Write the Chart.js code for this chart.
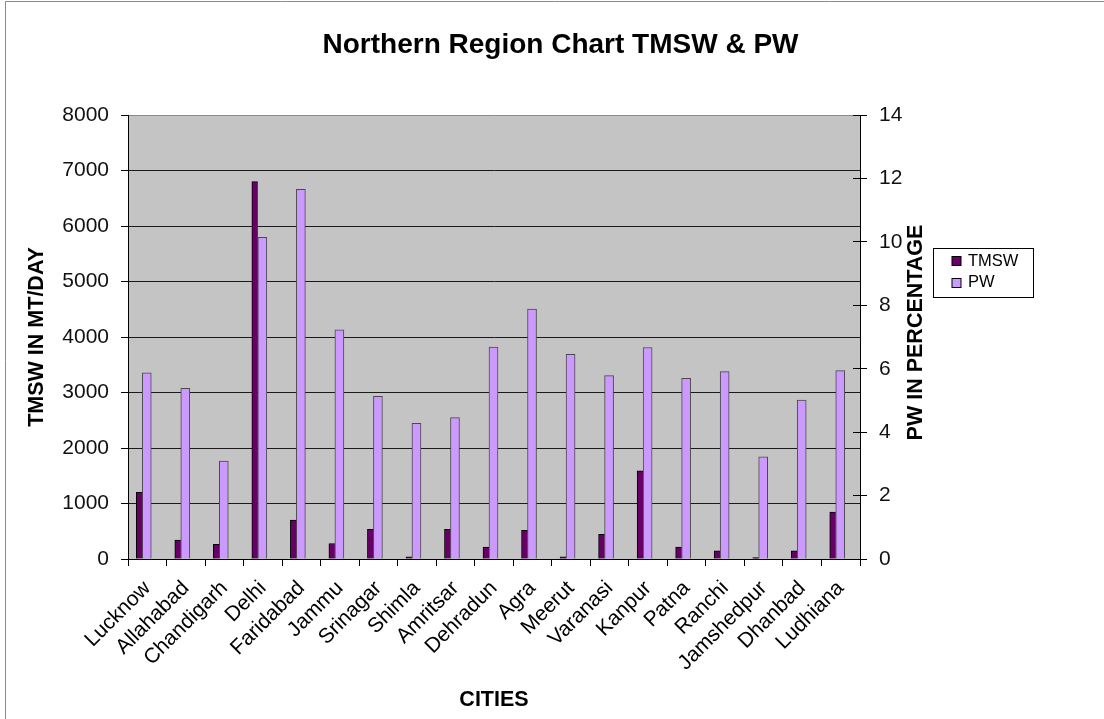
<!DOCTYPE html>
<html>
<head>
<meta charset="utf-8">
<title>Northern Region Chart TMSW &amp; PW</title>
<script src="https://cdn.jsdelivr.net/npm/chart.js@4.4.1/dist/chart.umd.min.js"></script>
<style>
  html, body { margin: 0; padding: 0; background: #ffffff; }
  #wrap { width: 1104px; height: 719px; }
</style>
</head>
<body>
<div id="wrap"><canvas id="chart" width="1104" height="719"></canvas></div>
<script>
// ---- data ----
const cities = ['Lucknow', 'Allahabad', 'Chandigarh', 'Delhi', 'Faridabad', 'Jammu', 'Srinagar',
  'Shimla', 'Amritsar', 'Dehradun', 'Agra', 'Meerut', 'Varanasi', 'Kanpur', 'Patna', 'Ranchi',
  'Jamshedpur', 'Dhanbad', 'Ludhiana'];

// total municipal solid waste, MT/day
const tmswValues = [1200, 340, 265, 6800, 700, 280, 535, 40, 535, 215, 515, 40, 445, 1590, 215, 145, 25, 145, 845];

// PW, percent
const pwValues = [5.87, 5.38, 3.09, 10.14, 11.66, 7.23, 5.13, 4.28, 4.46, 6.68, 7.88, 6.45, 5.78, 6.67, 5.70, 5.91, 3.22, 5.01, 5.94];

// axis ranges: [min, max, step]
const tmswAxis = [0, 8000, 1000];
const pwAxis = [0, 14, 2];

const chartTitle = 'Northern Region Chart TMSW & PW';
const xTitle = 'CITIES';
const yTitle = 'TMSW IN MT/DAY';
const y2Title = 'PW IN PERCENTAGE';

// ---- styling ----
const FONT = '"Liberation Sans", Arial, Helvetica, sans-serif';
Chart.defaults.font.family = FONT;
Chart.defaults.color = '#000';

function alignPx(v) { return Math.round(v - 0.5) + 0.5; }

// white page, grey frame and the grey plot background
const backdrop = {
  id: 'backdrop',
  beforeDraw(chart) {
    const { ctx, chartArea: a, width, height } = chart;
    ctx.save();
    ctx.fillStyle = '#ffffff';
    ctx.fillRect(0, 0, width, height);
    ctx.strokeStyle = '#8a8a8a';
    ctx.lineWidth = 1;
    ctx.beginPath();
    ctx.moveTo(5.5, height);
    ctx.lineTo(5.5, 1.5);
    ctx.lineTo(width, 1.5);
    ctx.stroke();
    ctx.fillStyle = '#c4c4c4';
    ctx.fillRect(a.left, a.top, a.right - a.left, a.bottom - a.top);
    ctx.restore();
  }
};

// the bar pair sits a little left of the category centre
const barShift = {
  id: 'barShift',
  beforeDatasetsDraw(chart) { chart.ctx.save(); chart.ctx.translate(-5, 0); },
  afterDatasetsDraw(chart) { chart.ctx.restore(); }
};

// inner half of the right-axis ticks, right axis title and the boxed legend
const extras = {
  id: 'extras',
  afterDraw(chart) {
    const { ctx, chartArea: a } = chart;
    const y2 = chart.scales.y2;
    ctx.save();
    ctx.strokeStyle = '#000';
    ctx.lineWidth = 1;
    y2.ticks.forEach((t, i) => {
      const y = alignPx(y2.getPixelForTick(i));
      ctx.beginPath();
      ctx.moveTo(a.right - 7, y);
      ctx.lineTo(a.right, y);
      ctx.stroke();
    });

    // right axis title, reading bottom to top
    ctx.save();
    ctx.font = 'bold 21.5px ' + FONT;
    ctx.fillStyle = '#000';
    ctx.textAlign = 'center';
    ctx.textBaseline = 'middle';
    ctx.translate(a.right + 56, (a.top + a.bottom) / 2 - 4.5);
    ctx.rotate(-Math.PI / 2);
    ctx.fillText(y2Title, 0, 0);
    ctx.restore();

    // legend
    const lx = alignPx(a.right + 73.3), ly = alignPx(a.top + 133.3);
    const lw = 100, lh = 49;
    ctx.fillStyle = '#ffffff';
    ctx.fillRect(lx, ly, lw, lh);
    ctx.strokeStyle = '#000';
    ctx.strokeRect(lx, ly, lw, lh);
    ctx.font = '16.5px ' + FONT;
    ctx.textAlign = 'left';
    ctx.textBaseline = 'middle';
    chart.data.datasets.forEach((ds, i) => {
      const cy = ly + 12.2 + i * 21.7;
      const sx = lx + 18.5, sy = Math.round(cy - 4.5) + 0.5;
      ctx.fillStyle = ds.backgroundColor;
      ctx.fillRect(sx, sy, 9, 9);
      ctx.strokeStyle = '#000';
      ctx.strokeRect(sx, sy, 9, 9);
      ctx.fillStyle = '#000';
      ctx.fillText(ds.label, lx + 34.5, cy + 0.5);
    });
    ctx.restore();
  }
};

new Chart(document.getElementById('chart'), {
  type: 'bar',
  data: {
    labels: cities,
    datasets: [
      {
        label: 'TMSW',
        data: tmswValues,
        yAxisID: 'y',
        backgroundColor: '#660066',
        borderColor: '#000000',
        borderWidth: { top: 1, left: 1, right: 0, bottom: 0 },
        borderSkipped: 'start',
        barThickness: 6
      },
      {
        label: 'PW',
        data: pwValues,
        yAxisID: 'y2',
        backgroundColor: '#cc99ff',
        borderColor: '#4a4a4a',
        borderWidth: 1,
        borderSkipped: 'start',
        barThickness: 9
      }
    ]
  },
  options: {
    responsive: false,
    animation: false,
    events: [],
    layout: { padding: { left: 17, right: 0, top: 0, bottom: 0 } },
    plugins: {
      legend: { display: false },
      tooltip: { enabled: false },
      title: {
        display: true,
        text: chartTitle,
        color: '#000',
        font: { size: 28, weight: 'bold' },
        padding: { top: 28.2, bottom: 53.2 }
      }
    },
    scales: {
      x: {
        type: 'category',
        offset: true,
        afterFit(scale) { scale.height = 160; },
        grid: { offset: true, drawOnChartArea: false, tickLength: 7, color: '#000' },
        border: { color: '#000', width: 1 },
        ticks: {
          autoSkip: false,
          minRotation: 45,
          maxRotation: 45,
          padding: 10,
          color: '#000',
          font: { size: 21 }
        },
        title: {
          display: true,
          text: xTitle,
          color: '#000',
          font: { size: 21.5, weight: 'bold' },
          padding: { top: 0, bottom: 6 }
        }
      },
      y: {
        position: 'left',
        min: tmswAxis[0],
        max: tmswAxis[1],
        afterFit(scale) { scale.width = 111; },
        grid: {
          color: (c) => (c.tick && c.tick.value === tmswAxis[1]) ? '#8a8a8a' : '#1a1a1a',
          tickColor: '#000',
          tickLength: 7
        },
        border: { color: '#000', width: 1 },
        ticks: {
          stepSize: tmswAxis[2],
          padding: 12,
          color: '#111',
          font: { size: 21 },
          callback: (v) => String(v)
        },
        title: {
          display: true,
          text: yTitle,
          color: '#000',
          font: { size: 21.5, weight: 'bold' },
          padding: { top: 6.8, bottom: 0 }
        }
      },
      y2: {
        position: 'right',
        min: pwAxis[0],
        max: pwAxis[1],
        afterFit(scale) { scale.width = 244; },
        grid: { drawOnChartArea: false, tickLength: 7, color: '#000' },
        border: { color: '#000', width: 1 },
        ticks: {
          stepSize: pwAxis[2],
          padding: 12,
          color: '#111',
          font: { size: 21 },
          callback: (v) => String(v)
        }
      }
    }
  },
  plugins: [backdrop, barShift, extras]
});
</script>
</body>
</html>
